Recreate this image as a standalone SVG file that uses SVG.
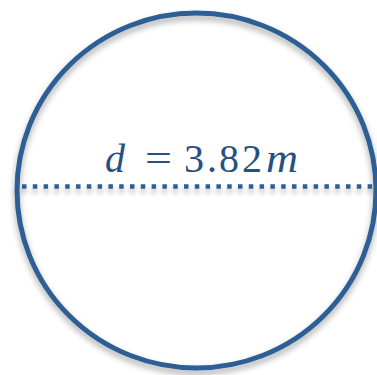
<svg xmlns="http://www.w3.org/2000/svg" width="377" height="375" viewBox="0 0 377 375">
  <defs>
    <filter id="sh" x="-10%" y="-10%" width="120%" height="125%">
      <feDropShadow dx="0" dy="4" stdDeviation="3" flood-color="#000" flood-opacity="0.35"/>
    </filter>
    <filter id="shl" filterUnits="userSpaceOnUse" x="0" y="170" width="377" height="40">
      <feDropShadow dx="0" dy="4" stdDeviation="2.5" flood-color="#000" flood-opacity="0.3"/>
    </filter>
    <style>
      .t { font-family: "Liberation Serif", "DejaVu Serif", serif; font-size: 40px; fill: #274f7f; }
      .i { font-style: italic; }
    </style>
  </defs>
  <rect width="377" height="375" fill="#ffffff"/>
  <g id="circle">
    <ellipse cx="196.5" cy="190.5" rx="179.5" ry="177.5" fill="none" stroke="#2d5e94" stroke-width="5" filter="url(#sh)"/>
  </g>
  <g id="diameter">
    <line x1="22" y1="186.5" x2="377" y2="186.5" stroke="#2d5e94" stroke-width="4.5" stroke-dasharray="4.5 6.3" filter="url(#shl)"/>
  </g>
  <g id="label">
    <text class="t i" x="105" y="172">d</text>
    <text class="t" x="145" y="172" textLength="27" lengthAdjust="spacingAndGlyphs">=</text>
    <text class="t" y="172"><tspan x="184">3</tspan><tspan x="207">.</tspan><tspan x="219">8</tspan><tspan x="242">2</tspan></text>
    <text class="t i" x="266" y="172" textLength="32" lengthAdjust="spacingAndGlyphs">m</text>
  </g>
</svg>
